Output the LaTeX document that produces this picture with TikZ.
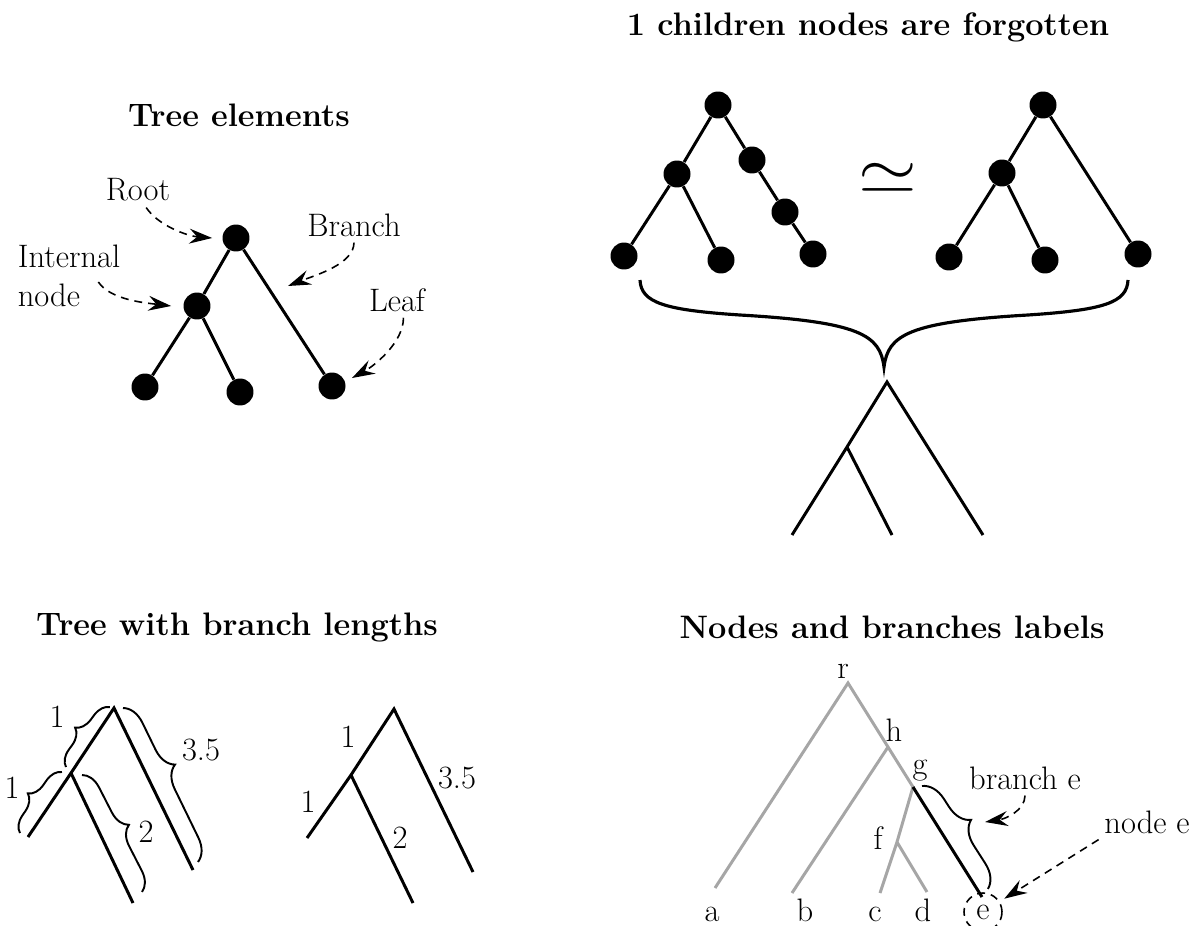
\documentclass[tikz,border=0pt]{standalone}
\usepackage{graphicx}
\usetikzlibrary{arrows.meta,decorations.pathreplacing}

\tikzset{
  dot/.style={circle,fill,inner sep=0pt,minimum size=0.54cm},
  edge/.style={line width=1.7pt},
  grayedge/.style={line width=1.7pt,black!35},
  dasharrow/.style={dash pattern=on 4.5pt off 3.4pt,line width=0.9pt,-{Stealth[length=13pt,width=8.5pt,inset=4.5pt]}},
  title/.style={font=\fontsize{18.5}{22}\selectfont\bfseries},
  lenbrace/.style={decorate,line width=1.1pt,decoration={brace,amplitude=#1}},
  leaflabel/.style={anchor=base},
}

\begin{document}
\begin{tikzpicture}[x=0.02cm,y=-0.02cm,font=\fontsize{18.5}{22}\selectfont]
\useasboundingbox (0,0) rectangle (1197,926);

% tree elements
\node[title] (elemtitle) at (239,115) {Tree elements};
\node[dot] (root) at (236,238) {};
\node[dot] (inner) at (197,306) {};
\node[dot] (leafa) at (145,387) {};
\node[dot] (leafb) at (240,392) {};
\node[dot] (leafc) at (332,386) {};
\draw[edge] (root) -- (inner) (inner) -- (leafa) (inner) -- (leafb) (root) -- (leafc);
\node (rootlab) at (138,190) {Root};
\node (branchlab) at (354,225) {Branch};
\node[align=left] (innerlab) at (69,276) {Internal\\node};
\node (leaflab) at (397,300) {Leaf};
\coordinate (branchpt) at (288,286);
\draw[dasharrow] (rootlab.-65) .. controls +(12,18) and +(-25,-2) .. ([xshift=-0.2cm]root.west);
\draw[dasharrow] (branchlab.south) .. controls +(0,22) and +(25,-10) .. (branchpt);
\draw[dasharrow] ([xshift=-0.56cm,yshift=-0.12cm]innerlab.east) .. controls +(12,18) and +(-25,-3) .. ([xshift=-0.24cm]inner.west);
\draw[dasharrow] (leaflab.-70) .. controls +(0,25) and +(22,-12) .. ([xshift=0.4cm,yshift=0.16cm]leafc.center);

% forgotten nodes
\node[title] (forgottitle) at (868,27) {1 children nodes are forgotten};
\node[dot] (ra) at (718,105) {};
\node[dot] (rb) at (677,174) {};
\node[dot] (rc) at (752,160) {};
\node[dot] (rd) at (785,212) {};
\node[dot] (ma) at (624,256) {};
\node[dot] (mb) at (721,260) {};
\node[dot] (mc) at (813,254) {};
\draw[edge] (ra) -- (rb) (rb) -- (ma) (rb) -- (mb) (ra) -- (rc) (rc) -- (rd) (rd) -- (mc);
\node[font=\fontsize{10}{12}\selectfont] (simeq) at (888,178) {\scalebox{4.3}[3.7]{$\simeq$}};
\node[dot] (sa) at (1043,105) {};
\node[dot] (sb) at (1002,173) {};
\node[dot] (na) at (949,257) {};
\node[dot] (nb) at (1045,260) {};
\node[dot] (nc) at (1138,254) {};
\draw[edge] (sa) -- (sb) (sb) -- (na) (sb) -- (nb) (sa) -- (nc);
\coordinate (bigl) at (640,280);
\coordinate (bigtip) at (884,367);
\coordinate (bigr) at (1128,280);
\draw[line width=1.8pt] (bigl) .. controls (641,303) and (665,310) .. (740,315)
  .. controls (860,322) and (880,335) .. (bigtip)
  .. controls (888,335) and (908,322) .. (1028,315)
  .. controls (1103,310) and (1127,303) .. (bigr);
\coordinate (ta) at (887,382);
\coordinate (tb) at (847,447);
\coordinate (tc) at (792,535);
\coordinate (td) at (892,535);
\coordinate (te) at (983,535);
\draw[edge] (tc) -- (tb) -- (ta) -- (te) (tb) -- (td);

% branch lengths
\node[title] (lentitle) at (237,627) {Tree with branch lengths};
\coordinate (ua) at (114,708);
\coordinate (ub) at (71,773);
\coordinate (uc) at (28,837);
\coordinate (ud) at (133,903);
\coordinate (ue) at (193,870);
\draw[edge] (uc) -- (ub) -- (ua) -- (ue) (ub) -- (ud);
\draw[lenbrace=0.32cm] (66,767) -- (110,707);
\draw[lenbrace=0.32cm] (20,833) -- (62,772);
\draw[lenbrace=0.44cm,decoration={aspect=0.43}] (123,708) -- (198,862);
\draw[lenbrace=0.38cm] (82,775) -- (142,892);
\node (ulen1) at (57,717) {1};
\node (ulen2) at (12,788) {1};
\node (ulen3) at (201,750) {3.5};
\node (ulen4) at (146,832) {2};
\coordinate (va) at (394,709);
\coordinate (vb) at (351,775);
\coordinate (vc) at (307,838);
\coordinate (vd) at (413,903);
\coordinate (ve) at (473,872);
\draw[edge] (vc) -- (vb) -- (va) -- (ve) (vb) -- (vd);
\node (vlen1) at (348,737) {1};
\node (vlen2) at (308,802) {1};
\node (vlen3) at (457,778) {3.5};
\node (vlen4) at (400,838) {2};

% labels
\node[title] (labtitle) at (892,627) {Nodes and branches labels};
\coordinate (r) at (848,683);
\coordinate (h) at (888,747);
\coordinate (g) at (913,787);
\coordinate (f) at (897,842);
\coordinate (a) at (715,888);
\coordinate (b) at (792,893);
\coordinate (c) at (880,893);
\coordinate (d) at (927,892);
\coordinate (e) at (982,897);
\draw[grayedge] (a) -- (r) -- (h) -- (g) -- (f) -- (c) (h) -- (b) (f) -- (d);
\draw[edge] (g) -- (e);
\node[leaflabel] (rlab) at (843,678) {r};
\node[leaflabel] (hlab) at (894,741) {h};
\node[leaflabel] (glab) at (920,774) {g};
\node[leaflabel] (flab) at (878,849) {f};
\node[leaflabel] (alab) at (712,921) {a};
\node[leaflabel] (blab) at (805,921) {b};
\node[leaflabel] (clab) at (875,921) {c};
\node[leaflabel] (dlab) at (923,921) {d};
\node[circle,draw,dash pattern=on 4.5pt off 3.4pt,line width=0.9pt,inner sep=0pt,minimum size=0.76cm] (elab) at (983,912) {e};
\draw[lenbrace=0.46cm,decoration={aspect=0.45}] (922,786) -- (988,889);
\coordinate (bracetip) at (985,822);
\node (branchelab) at (1025,778) {branch e};
\node (nodeelab) at (1147,822) {node e};
\draw[dasharrow] (branchelab.south) .. controls +(0,15) and +(20,-3) .. (bracetip);
\draw[dasharrow,shorten >=3pt] (nodeelab.200) -- (elab);
\end{tikzpicture}
\end{document}
